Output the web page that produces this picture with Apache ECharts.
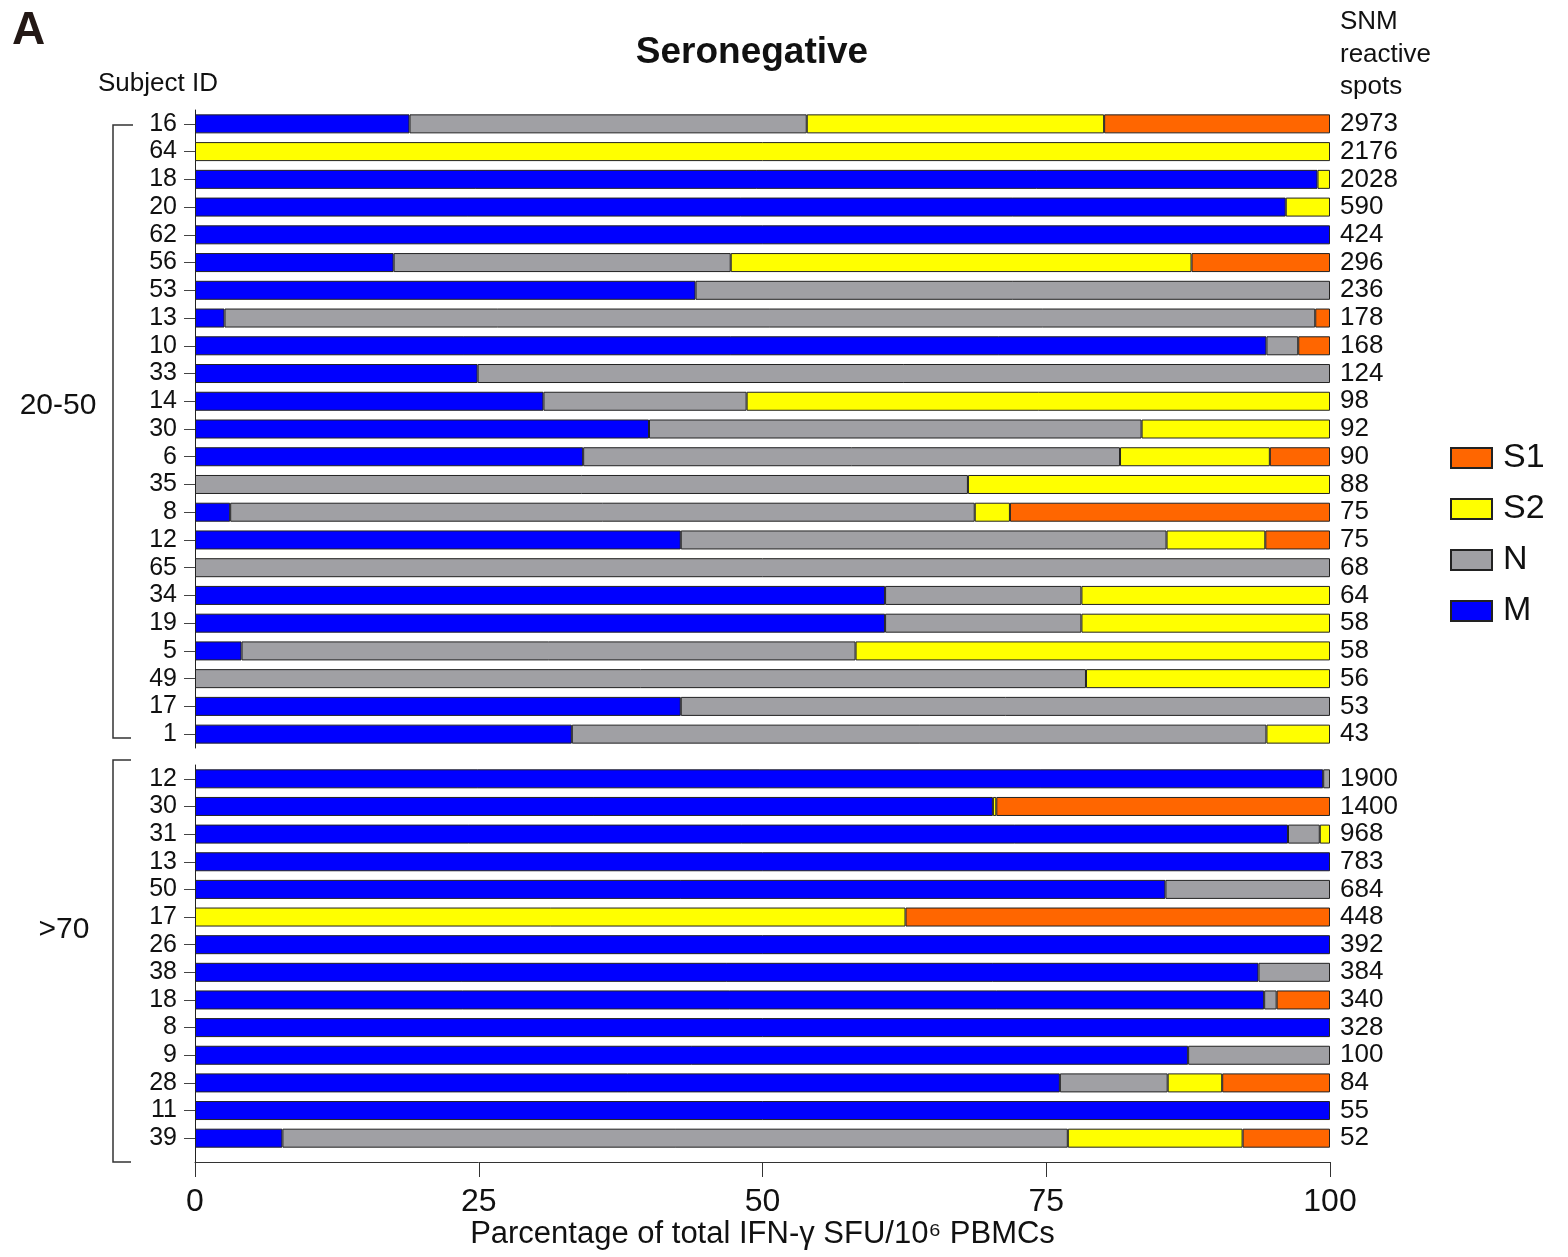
<!DOCTYPE html>
<html>
<head>
<meta charset="utf-8">
<script src="https://cdn.jsdelivr.net/npm/echarts@6/dist/echarts.min.js"></script>
<style>html,body{margin:0;padding:0;background:#fff;}#c{width:1568px;height:1257px;}</style>
</head>
<body>
<div id="c"></div>
<script>
// ---- Data ----
// Group 20-50
var g1Ids   = ['16','64','18','20','62','56','53','13','10','33','14','30','6','35','8','12','65','34','19','5','49','17','1'];
var g1Spots = ['2973','2176','2028','590','424','296','236','178','168','124','98','92','90','88','75','75','68','64','58','58','56','53','43'];
var g1M  = [18.9, 0, 98.9, 96.1, 100, 17.5, 44.1, 2.6, 94.4, 24.9, 30.7, 40.0, 34.2, 0, 3.1, 42.8, 0, 60.8, 60.8, 4.1, 0, 42.8, 33.2];
var g1N  = [35.0, 0, 0, 0, 0, 29.7, 55.9, 96.1, 2.8, 75.1, 17.9, 43.4, 47.3, 68.1, 65.6, 42.8, 100, 17.3, 17.3, 54.1, 78.5, 57.2, 61.2];
var g1S2 = [26.2, 100, 1.1, 3.9, 0, 40.6, 0, 0, 0, 0, 51.4, 16.6, 13.2, 31.9, 3.1, 8.7, 0, 21.9, 21.9, 41.8, 21.5, 0, 5.6];
var g1S1 = [19.9, 0, 0, 0, 0, 12.2, 0, 1.3, 2.8, 0, 0, 0, 5.3, 0, 28.2, 5.7, 0, 0, 0, 0, 0, 0, 0];
// Group >70
var g2Ids   = ['12','30','31','13','50','17','26','38','18','8','9','28','11','39'];
var g2Spots = ['1900','1400','968','783','684','448','392','384','340','328','100','84','55','52'];
var g2M  = [99.4, 70.3, 96.3, 100, 85.5, 0, 100, 93.7, 94.2, 100, 87.5, 76.2, 100, 7.7];
var g2N  = [0.6, 0, 2.8, 0, 14.5, 0, 0, 6.3, 1.1, 0, 12.5, 9.5, 0, 69.2];
var g2S2 = [0, 0.3, 0.9, 0, 0, 62.6, 0, 0, 0, 0, 0, 4.8, 0, 15.4];
var g2S1 = [0, 29.4, 0, 0, 0, 37.4, 0, 0, 4.7, 0, 0, 9.5, 0, 7.7];
var xTicks = [0, 25, 50, 75, 100];
var seriesNames = ['M', 'N', 'S2', 'S1'];
var seriesColors = {M: '#0000FF', N: '#A0A0A4', S2: '#FFFF00', S1: '#FF6600'};

// ---- Build ----
var FONT = '"Liberation Sans", Arial, sans-serif';
function clean(arr) { return arr.map(function (v) { return v === 0 ? '-' : v; }); }
var g1 = {M: g1M, N: g1N, S2: g1S2, S1: g1S1};
var g2 = {M: g2M, N: g2N, S2: g2S2, S1: g2S1};

var series = [];
seriesNames.forEach(function (n) {
  series.push({
    name: n, type: 'bar', stack: 'g1', xAxisIndex: 0, yAxisIndex: 0,
    barWidth: 19, data: clean(g1[n]),
    itemStyle: {color: seriesColors[n], borderColor: '#222', borderWidth: 1},
    emphasis: {disabled: true}, animation: false
  });
});
seriesNames.forEach(function (n) {
  series.push({
    name: n, type: 'bar', stack: 'g2', xAxisIndex: 1, yAxisIndex: 2,
    barWidth: 19, data: clean(g2[n]),
    itemStyle: {color: seriesColors[n], borderColor: '#222', borderWidth: 1},
    emphasis: {disabled: true}, animation: false
  });
});

function leftY(gridIndex, ids) {
  return {
    type: 'category', gridIndex: gridIndex, inverse: true, data: ids, position: 'left',
    axisLine: {show: true, lineStyle: {color: '#222', width: 1}},
    axisTick: {show: true, alignWithLabel: true, interval: 0, length: 11, lineStyle: {color: '#444'}},
    axisLabel: {fontFamily: FONT, fontSize: 25, color: '#111', margin: 18, interval: 0, hideOverlap: false},
    splitLine: {show: false}
  };
}
function rightY(gridIndex, ids, spots) {
  return {
    type: 'category', gridIndex: gridIndex, inverse: true, data: ids, position: 'right',
    axisLine: {show: false}, axisTick: {show: false},
    axisLabel: {fontFamily: FONT, fontSize: 26, color: '#111', margin: 10, interval: 0, hideOverlap: false,
      formatter: function (v, i) { return spots[i]; }},
    splitLine: {show: false}
  };
}

var option = {
  backgroundColor: '#fff',
  animation: false,
  grid: [
    {left: 195, right: 238, top: 110, height: 638},
    {left: 195, right: 238, top: 765, height: 387}
  ],
  legend: {
    orient: 'vertical', left: 1450, top: 441, padding: 0,
    data: ['S1', 'S2', 'N', 'M'],
    itemWidth: 41, itemHeight: 20, itemGap: 17,
    selectedMode: false,
    textStyle: {fontFamily: FONT, fontSize: 34, color: '#111', lineHeight: 34, padding: [0, 0, 0, 6]},
    icon: 'rect'
  },
  xAxis: [
    {type: 'value', gridIndex: 0, min: 0, max: 100, interval: 25, show: false},
    {type: 'value', gridIndex: 1, min: 0, max: 100, interval: 25, offset: 10,
      axisLine: {show: true, lineStyle: {color: '#333', width: 1}},
      axisTick: {show: true, length: 15, lineStyle: {color: '#333'}},
      axisLabel: {fontFamily: FONT, fontSize: 32, color: '#111', margin: 24,
        formatter: function (v) { return xTicks.indexOf(v) >= 0 ? String(v) : ''; }},
      splitLine: {show: false},
      name: 'Parcentage of total IFN-\u03b3 SFU/10\u2076 PBMCs',
      nameLocation: 'middle', nameGap: 55,
      nameTextStyle: {fontFamily: FONT, fontSize: 31, color: '#111'}
    }
  ],
  yAxis: [
    leftY(0, g1Ids), rightY(0, g1Ids, g1Spots),
    leftY(1, g2Ids), rightY(1, g2Ids, g2Spots)
  ],
  series: series,
  graphic: [
    {type: 'text', left: 12, top: 8, style: {text: 'A', font: 'bold 46px ' + FONT, fill: '#231815'}},
    {type: 'text', x: 752, y: 53, style: {text: 'Seronegative', font: 'bold 37px ' + FONT, fill: '#111', align: 'center', verticalAlign: 'middle'}},
    {type: 'text', x: 98, y: 84, style: {text: 'Subject ID', font: '26px ' + FONT, fill: '#111', align: 'left', verticalAlign: 'middle'}},
    {type: 'text', x: 1340, y: 22, style: {text: 'SNM', font: '26px ' + FONT, fill: '#111', align: 'left', verticalAlign: 'middle'}},
    {type: 'text', x: 1340, y: 55, style: {text: 'reactive', font: '26px ' + FONT, fill: '#111', align: 'left', verticalAlign: 'middle'}},
    {type: 'text', x: 1340, y: 87, style: {text: 'spots', font: '26px ' + FONT, fill: '#111', align: 'left', verticalAlign: 'middle'}},
    {type: 'text', x: 58, y: 406, style: {text: '20-50', font: '30px ' + FONT, fill: '#111', align: 'center', verticalAlign: 'middle'}},
    {type: 'text', x: 64, y: 930, style: {text: '>70', font: '30px ' + FONT, fill: '#111', align: 'center', verticalAlign: 'middle'}},
    {type: 'polyline', shape: {points: [[133, 125], [113, 125], [113, 738], [131, 738]]}, style: {stroke: '#333', lineWidth: 1.5, fill: null}},
    {type: 'polyline', shape: {points: [[131, 760], [113, 760], [113, 1162], [131, 1162]]}, style: {stroke: '#333', lineWidth: 1.5, fill: null}},
    {type: 'line', shape: {x1: 195.5, y1: 1152, x2: 195.5, y2: 1162}, style: {stroke: '#222', lineWidth: 1}}
  ]
};

var chart = echarts.init(document.getElementById('c'), null, {renderer: 'canvas'});
chart.setOption(option);
</script>
</body>
</html>
